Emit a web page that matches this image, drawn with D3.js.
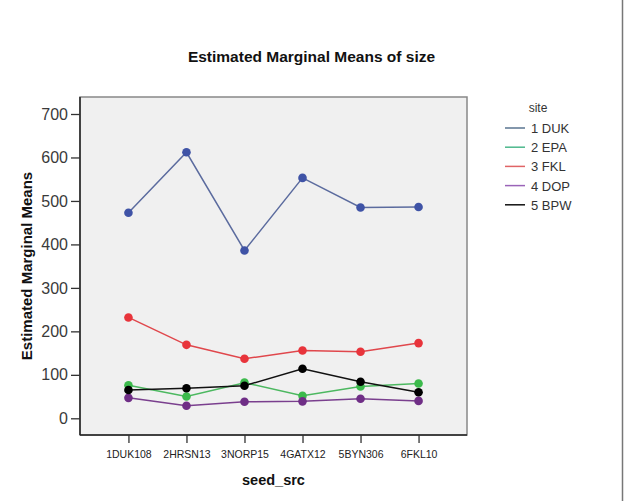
<!DOCTYPE html>
<html>
<head>
<meta charset="utf-8">
<script src="https://cdn.jsdelivr.net/npm/d3@7"></script>
<style>
body { margin: 0; background: #fff; }
text { font-family: Arial, "Liberation Sans", sans-serif; }
</style>
</head>
<body>
<svg id="chart" width="624" height="501"></svg>
<script>
var categories = ["1DUK108", "2HRSN13", "3NORP15", "4GATX12", "5BYN306", "6FKL10"];
var siteNames = ["1 DUK", "2 EPA", "3 FKL", "4 DOP", "5 BPW"];
var duk = [473, 612, 386, 553, 485, 486];
var epa = [76, 50, 82, 52, 73, 80];
var fkl = [232, 169, 137, 156, 153, 173];
var dop = [47, 29, 38, 39, 45, 40];
var bpw = [65, 69, 75, 114, 84, 60];
var yTicks = [0, 100, 200, 300, 400, 500, 600, 700];

var lineColors = ["#5b6b9e", "#4cb860", "#e0474c", "#7a3f8e", "#111111"];
var dotColors = ["#3f53a6", "#3cba4c", "#e8343b", "#6f2e86", "#000000"];
var legendColors = ["#5a7590", "#4cb88c", "#e06466", "#9a64b8", "#111111"];

var series = [duk, epa, fkl, dop, bpw].map(function (v, i) {
    return { name: siteNames[i], values: v, line: lineColors[i], dot: dotColors[i], legend: legendColors[i] };
});

var svg = d3.select("#chart");
var box = { left: 80, top: 97, right: 467, bottom: 435 };

var x = d3.scalePoint().domain(categories).range([box.left, box.right]).padding(0.835);
var y = d3.scaleLinear().domain([0, 700]).range([418.3, 114]);

// outer frame line at right edge
svg.append("line")
    .attr("x1", 622.5).attr("x2", 622.5).attr("y1", 0).attr("y2", 501)
    .attr("stroke", "#777").attr("stroke-width", 1.5);

// title
svg.append("text")
    .attr("x", 311.5).attr("y", 62)
    .attr("text-anchor", "middle")
    .attr("font-size", 15.5).attr("font-weight", "bold")
    .attr("fill", "#111")
    .text("Estimated Marginal Means of size");

// plot background with frame
svg.append("rect")
    .attr("x", box.left).attr("y", box.top)
    .attr("width", box.right - box.left).attr("height", box.bottom - box.top)
    .attr("fill", "#f0f0f0")
    .attr("stroke", "#888").attr("stroke-width", 1.5);

// dark left and bottom axis lines
svg.append("line")
    .attr("x1", box.left).attr("x2", box.left).attr("y1", box.top).attr("y2", box.bottom)
    .attr("stroke", "#222").attr("stroke-width", 1.5);
svg.append("line")
    .attr("x1", box.left).attr("x2", box.right).attr("y1", box.bottom).attr("y2", box.bottom)
    .attr("stroke", "#222").attr("stroke-width", 1.5);

// y axis
var yAxis = d3.axisLeft(y).tickValues(yTicks).tickSize(9).tickPadding(3);
var yg = svg.append("g").attr("transform", "translate(" + box.left + ",0)").call(yAxis);
yg.select(".domain").remove();
yg.selectAll(".tick line").attr("stroke", "#333").attr("stroke-width", 1.3);
yg.selectAll(".tick text").attr("font-size", 16).attr("fill", "#3a3a3a")
    .attr("font-family", "Arial, 'Liberation Sans', sans-serif");

// x axis
var xAxis = d3.axisBottom(x).tickSize(8).tickPadding(8);
var xg = svg.append("g").attr("transform", "translate(0," + box.bottom + ")").call(xAxis);
xg.select(".domain").remove();
xg.selectAll(".tick line").attr("stroke", "#333").attr("stroke-width", 1.3);
xg.selectAll(".tick text").attr("font-size", 10.5).attr("fill", "#222")
    .attr("font-family", "Arial, 'Liberation Sans', sans-serif");

// axis titles
svg.append("text")
    .attr("x", (box.left + box.right) / 2).attr("y", 485)
    .attr("text-anchor", "middle")
    .attr("font-size", 14.5).attr("font-weight", "bold").attr("fill", "#111")
    .text("seed_src");

svg.append("text")
    .attr("transform", "translate(32," + ((box.top + box.bottom) / 2) + ")rotate(-90)")
    .attr("text-anchor", "middle")
    .attr("font-size", 15).attr("font-weight", "bold").attr("fill", "#111")
    .text("Estimated Marginal Means");

// lines and points
var line = d3.line()
    .x(function (d, i) { return x(categories[i]); })
    .y(function (d) { return y(d); });

var groups = svg.selectAll(".series").data(series).enter()
    .append("g").attr("class", "series");

groups.append("path")
    .attr("d", function (d) { return line(d.values); })
    .attr("fill", "none")
    .attr("stroke", function (d) { return d.line; })
    .attr("stroke-width", 1.5);

groups.selectAll("circle")
    .data(function (d) { return d.values.map(function (v, i) { return { v: v, c: categories[i], col: d.dot }; }); })
    .enter().append("circle")
    .attr("cx", function (d) { return x(d.c); })
    .attr("cy", function (d) { return y(d.v); })
    .attr("r", 4.3)
    .attr("fill", function (d) { return d.col; });

// legend
var legend = svg.append("g").attr("transform", "translate(505,0)");
legend.append("text")
    .attr("x", 33).attr("y", 112)
    .attr("text-anchor", "middle")
    .attr("font-size", 12).attr("fill", "#333")
    .text("site");

var items = legend.selectAll(".item").data(series).enter()
    .append("g").attr("class", "item")
    .attr("transform", function (d, i) { return "translate(0," + (128 + i * 19.2) + ")"; });

items.append("line")
    .attr("x1", 0).attr("x2", 20).attr("y1", 0).attr("y2", 0)
    .attr("stroke", function (d) { return d.legend; })
    .attr("stroke-width", 1.5);

items.append("text")
    .attr("x", 26).attr("y", 5)
    .attr("font-size", 13).attr("fill", "#333")
    .text(function (d) { return d.name; });
</script>
</body>
</html>
